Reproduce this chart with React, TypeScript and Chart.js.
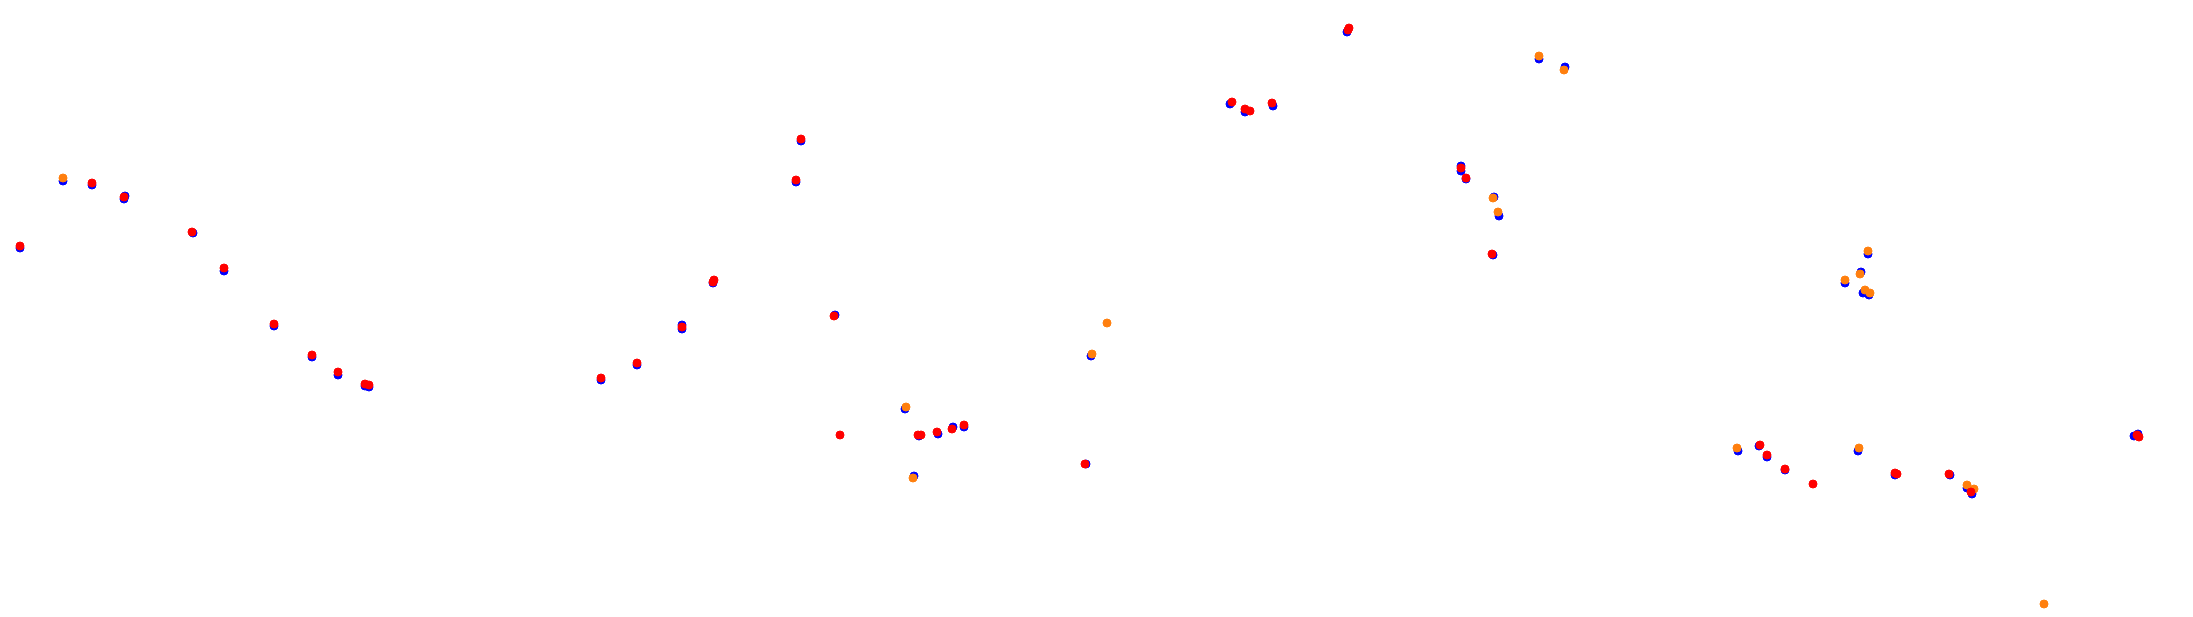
import React, { useEffect, useRef } from "react";
import { Chart, registerables } from "chart.js";

Chart.register(...registerables);

const WIDTH = 2193;
const HEIGHT = 617;

// Series values (x across, y down)
const blueX = [20, 63, 92, 125, 124, 193, 224, 274, 312, 338, 365, 369, 601, 637, 682, 682, 713, 796, 801, 835, 905, 914, 919, 938, 953, 964, 1086, 1091, 1230, 1245, 1273, 1347, 1461, 1461, 1466, 1494, 1499, 1493, 1539, 1565, 1738, 1759, 1767, 1785, 1858, 1845, 1861, 1868, 1863, 1869, 1895, 1950, 1967, 1972, 2134, 2138];
const blueY = [248, 181, 185, 196, 199, 233, 271, 326, 357, 375, 386, 387, 380, 365, 325, 329, 283, 182, 141, 315, 409, 476, 436, 434, 427, 427, 464, 356, 104, 112, 106, 32, 166, 171, 179, 197, 216, 255, 59, 67, 451, 446, 457, 470, 451, 283, 272, 254, 293, 295, 475, 475, 488, 494, 436, 434];

const orangeX = [63, 906, 913, 1092, 1107, 1539, 1564, 1493, 1498, 1737, 1845, 1860, 1868, 1865, 1870, 1859, 1967, 1974, 2044];
const orangeY = [178, 407, 478, 354, 323, 56, 70, 198, 212, 448, 280, 274, 251, 290, 293, 448, 485, 489, 604];

const redX = [20, 92, 124, 192, 224, 274, 312, 338, 365, 369, 601, 637, 682, 714, 713, 796, 801, 834, 840, 918, 921, 937, 952, 964, 1085, 1232, 1245, 1250, 1272, 1348, 1349, 1461, 1466, 1492, 1760, 1767, 1785, 1813, 1895, 1897, 1949, 1971, 2137, 2139];
const redY = [246, 183, 197, 232, 268, 324, 355, 372, 384, 385, 378, 363, 327, 280, 282, 180, 139, 316, 435, 435, 435, 432, 429, 425, 464, 102, 109, 111, 103, 30, 28, 168, 178, 254, 445, 455, 469, 484, 473, 474, 474, 492, 435, 437];

const toPoints = (xs: number[], ys: number[]) => xs.map((x, i) => ({ x, y: ys[i] }));

export default function App() {
  const ref = useRef<HTMLCanvasElement | null>(null);

  useEffect(() => {
    document.body.style.margin = "0";
    if (!ref.current) return;
    const mk = (label: string, color: string, xs: number[], ys: number[]) => ({
      label,
      data: toPoints(xs, ys),
      backgroundColor: color,
      borderColor: color,
      pointRadius: 4,
      borderWidth: 1,
      pointHoverRadius: 4,
    });
    const chart = new Chart(ref.current, {
      type: "scatter",
      data: {
        datasets: [
          mk("red", "#ff0000", redX, redY),
          mk("orange", "#ff7f0e", orangeX, orangeY),
          mk("blue", "#0000ff", blueX, blueY),
        ],
      },
      options: {
        animation: false,
        responsive: true,
        maintainAspectRatio: false,
        layout: { padding: 0, autoPadding: false },
        plugins: { legend: { display: false }, tooltip: { enabled: false } },
        scales: {
          x: { type: "linear", display: false, min: 0, max: WIDTH },
          y: { type: "linear", display: false, min: 0, max: HEIGHT, reverse: true },
        },
      },
    });
    return () => chart.destroy();
  }, []);

  return (
    <div style={{ position: "fixed", left: 0, top: 0, width: WIDTH, height: HEIGHT, background: "#fff" }}>
      <canvas ref={ref} />
    </div>
  );
}
